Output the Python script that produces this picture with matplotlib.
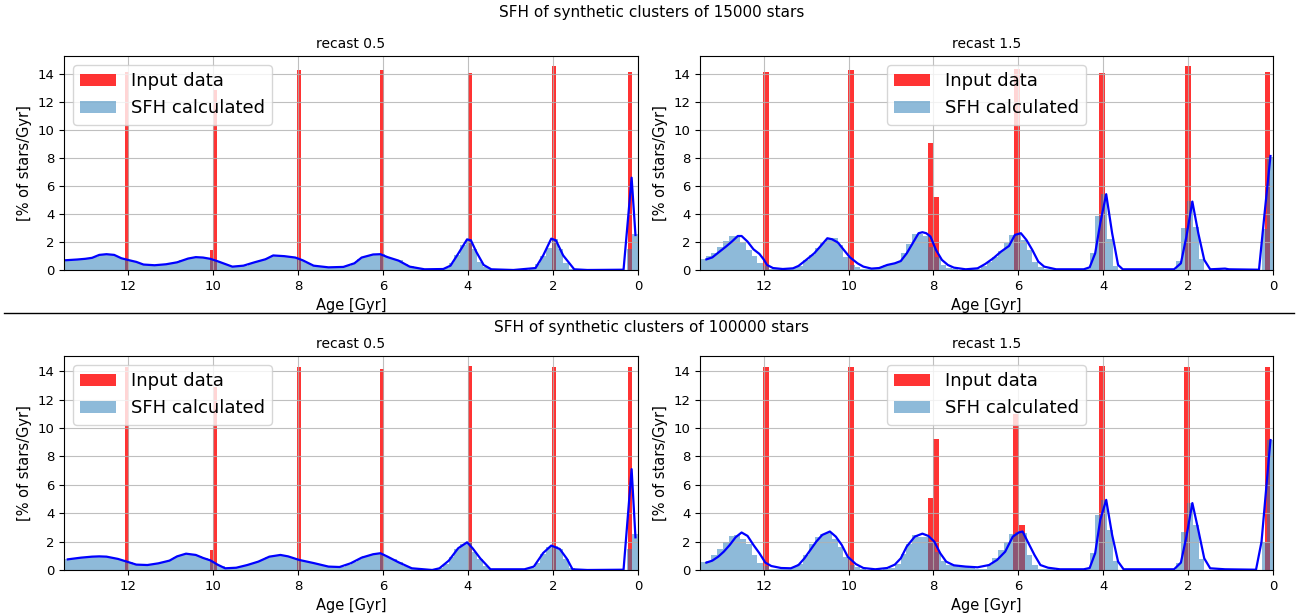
import matplotlib
matplotlib.use("Agg")
import matplotlib.pyplot as plt
from matplotlib.lines import Line2D

# ---------------- data ----------------
BIN_W = 0.135
N_BINS = 100
bin_ages = [BIN_W * (k + 0.5) for k in range(N_BINS)]  # bin centres, young -> old [Gyr]

# --- input bursts (red bars) ---
red_age_15k_r05 = [12.01, 10.03, 9.95, 7.98, 6.03, 3.95, 1.97, 0.19]
red_val_15k_r05 = [14.16, 1.43, 12.86, 14.29, 14.3, 14.05, 14.57, 14.16]
red_age_15k_r15 = [11.95, 9.94, 8.07, 7.94, 6.04, 4.03, 2.0, 0.13]
red_val_15k_r15 = [14.16, 14.29, 9.1, 5.24, 14.36, 14.1, 14.57, 14.16]
red_age_100k_r05 = [12.01, 10.03, 9.95, 7.98, 6.03, 3.95, 1.97, 0.19]
red_val_100k_r05 = [14.3, 1.41, 12.9, 14.3, 14.15, 14.35, 14.26, 14.26]
red_age_100k_r15 = [11.95, 9.94, 8.07, 7.94, 6.05, 5.92, 4.03, 2.02, 0.13]
red_val_100k_r15 = [14.26, 14.26, 5.05, 9.2, 10.96, 3.17, 14.35, 14.26, 14.26]

# --- recovered SFH histogram (blue bars), one value per bin, young -> old ---
bars_15k_r05 = [
    2.6, 1.5, 0, 0, 0, 0, 0, 0, 0, 0,
    0, 0.1, 0.5, 1.5, 2.2, 1.6, 1.0, 0.4, 0.08, 0.02,
    0, 0, 0, 0.01, 0.02, 0.05, 0.2, 0.6, 1.5, 2.2,
    1.8, 1.1, 0.5, 0.15, 0.07, 0.05, 0.05, 0.06, 0.12, 0.28,
    0.45, 0.68, 0.78, 0.95, 1.12, 1.12, 1.08, 0.95, 0.8, 0.48,
    0.3, 0.22, 0.2, 0.19, 0.2, 0.25, 0.31, 0.52, 0.70, 0.88,
    0.95, 0.99, 1.02, 1.04, 0.85, 0.7, 0.58, 0.45, 0.32, 0.27,
    0.25, 0.35, 0.52, 0.66, 0.80, 0.88, 0.91, 0.90, 0.82, 0.68,
    0.55, 0.46, 0.40, 0.36, 0.34, 0.37, 0.42, 0.58, 0.70, 0.80,
    0.96, 1.08, 1.13, 1.1, 0.95, 0.84, 0.80, 0.76, 0.73, 0.70,
]
bars_100k_r05 = [
    2.5, 1.5, 0, 0, 0, 0, 0, 0, 0, 0,
    0, 0.15, 0.8, 1.45, 1.7, 1.65, 1.1, 0.5, 0.15, 0.05,
    0.03, 0.02, 0.02, 0.02, 0.02, 0.05, 0.3, 0.8, 1.3, 1.9,
    1.8, 1.45, 0.9, 0.4, 0.12, 0.02, 0.01, 0.03, 0.08, 0.12,
    0.3, 0.55, 0.75, 0.95, 1.15, 1.15, 1.08, 0.98, 0.8, 0.55,
    0.38, 0.23, 0.21, 0.23, 0.3, 0.38, 0.49, 0.57, 0.66, 0.75,
    0.9, 1.02, 1.06, 1.0, 0.9, 0.7, 0.55, 0.4, 0.3, 0.2,
    0.15, 0.12, 0.25, 0.4, 0.68, 0.88, 0.98, 1.1, 1.15, 1.08,
    0.92, 0.68, 0.55, 0.47, 0.4, 0.35, 0.36, 0.38, 0.55, 0.68,
    0.78, 0.88, 0.94, 0.96, 0.95, 0.92, 0.88, 0.85, 0.8, 0.75,
]
bars_15k_r15 = [
    8.1, 2.93, 0, 0, 0, 0, 0, 0.05, 0.03, 0,
    0, 0, 0.79, 3.1, 4.9, 3.02, 0.64, 0.02, 0, 0,
    0, 0, 0, 0, 0, 0, 0.02, 0.3, 2.2, 5.4,
    3.86, 1.24, 0.05, 0.02, 0.02, 0.02, 0.02, 0.02, 0.05, 0.1,
    0.24, 0.6, 1.43, 2.14, 2.6, 2.5, 1.9, 1.38, 0.95, 0.6,
    0.3, 0.1, 0.05, 0.02, 0.02, 0.05, 0.15, 0.36, 0.95, 1.67,
    2.45, 2.58, 2.55, 1.84, 1.2, 0.6, 0.45, 0.35, 0.25, 0.15,
    0.05, 0.05, 0.2, 0.36, 0.95, 1.79, 2.26, 2.31, 1.95, 1.55,
    1.07, 0.71, 0.29, 0.15, 0.08, 0.05, 0.05, 0.1, 0.3, 0.52,
    1.0, 1.43, 2.0, 2.43, 2.43, 2.1, 1.67, 1.24, 1.0, 0.79,
]
bars_100k_r15 = [
    9.15, 2.0, 0, 0, 0, 0, 0, 0.03, 0, 0,
    0, 0.02, 0.77, 3.2, 4.7, 2.7, 0.47, 0.02, 0, 0,
    0, 0, 0, 0, 0, 0, 0.02, 0.63, 2.82, 4.93,
    3.87, 1.22, 0.05, 0.02, 0.02, 0.02, 0.02, 0.02, 0.05, 0.1,
    0.1, 0.35, 1.06, 2.58, 2.7, 2.51, 2.0, 1.41, 0.82, 0.35,
    0.1, 0.1, 0.15, 0.18, 0.2, 0.25, 0.35, 0.65, 1.25, 2.0,
    2.3, 2.3, 2.46, 1.83, 1.13, 0.4, 0.15, 0.05, 0.03, 0.02,
    0.02, 0.05, 0.2, 0.35, 0.94, 1.64, 2.2, 2.58, 2.5, 2.35,
    1.83, 1.06, 0.42, 0.2, 0.1, 0.05, 0.05, 0.1, 0.25, 0.5,
    1.06, 1.8, 2.2, 2.45, 2.4, 2.0, 1.5, 1.06, 0.6, 0.55,
]

# --- recovered SFH curve (blue line) ---
line_age_15k_r05 = [13.45, 13.19, 13.0, 12.84, 12.67, 12.5, 12.32, 12.15, 11.97, 11.8,
                    11.63, 11.37, 11.1, 10.84, 10.58, 10.4, 10.23, 10.06, 9.89, 9.71,
                    9.54, 9.28, 9.02, 8.76, 8.58, 8.32, 8.06, 7.89, 7.63, 7.28,
                    6.93, 6.67, 6.5, 6.23, 6.06, 5.89, 5.63, 5.37, 5.02, 4.58,
                    4.41, 4.23, 4.02, 3.93, 3.8, 3.63, 3.45, 2.93, 2.41, 2.23,
                    2.04, 1.93, 1.76, 1.5, 1.19, 0.34, 0.15, 0.06]
line_15k_r05 = [0.70, 0.75, 0.80, 0.87, 1.08, 1.13, 1.08, 0.84, 0.70, 0.58,
                0.39, 0.34, 0.41, 0.55, 0.82, 0.92, 0.89, 0.80, 0.63, 0.43,
                0.24, 0.31, 0.55, 0.77, 1.04, 0.99, 0.89, 0.70, 0.31, 0.19,
                0.22, 0.48, 0.89, 1.11, 1.13, 0.92, 0.67, 0.24, 0.05, 0.07,
                0.31, 1.16, 2.19, 2.12, 1.28, 0.36, 0.05, 0.0, 0.14, 1.04,
                2.24, 2.12, 1.04, 0.05, 0.0, 0.02, 6.6, 2.5]

line_age_100k_r05 = [13.41, 13.1, 12.84, 12.67, 12.5, 12.23, 11.97, 11.8, 11.54, 11.28,
                     11.02, 10.84, 10.63, 10.4, 10.23, 10.06, 9.89, 9.71, 9.45, 9.19,
                     8.93, 8.67, 8.41, 8.23, 7.97, 7.63, 7.28, 7.02, 6.76, 6.5,
                     6.23, 6.06, 5.89, 5.63, 5.32, 4.84, 4.67, 4.45, 4.23, 4.02,
                     3.89, 3.71, 3.47, 2.67, 2.45, 2.23, 2.04, 1.84, 1.67, 1.54,
                     1.19, 0.34, 0.15, 0.06]
line_100k_r05 = [0.75, 0.87, 0.94, 0.96, 0.94, 0.78, 0.54, 0.38, 0.35, 0.47,
                 0.66, 0.96, 1.15, 1.06, 0.85, 0.68, 0.38, 0.12, 0.16, 0.35,
                 0.59, 0.94, 1.06, 0.96, 0.71, 0.49, 0.24, 0.21, 0.47, 0.87,
                 1.11, 1.18, 0.94, 0.54, 0.12, 0.0, 0.12, 0.66, 1.53, 1.95,
                 1.53, 0.82, 0.05, 0.05, 0.24, 1.2, 1.72, 1.48, 0.78, 0.05,
                 0.0, 0.02, 7.1, 2.3]

line_age_15k_r15 = [13.35, 13.21, 13.07, 12.89, 12.75, 12.61, 12.52, 12.38, 12.24, 12.1,
                    12.0, 11.92, 11.78, 11.55, 11.31, 11.18, 11.0, 10.81, 10.67, 10.5,
                    10.39, 10.25, 10.11, 9.97, 9.79, 9.65, 9.46, 9.28, 9.09, 8.91,
                    8.77, 8.63, 8.49, 8.35, 8.26, 8.17, 8.07, 7.94, 7.8, 7.66,
                    7.52, 7.24, 6.96, 6.78, 6.59, 6.41, 6.22, 6.08, 5.94, 5.81,
                    5.67, 5.53, 5.39, 5.11, 4.46, 4.32, 4.19, 4.07, 3.93, 3.79,
                    3.65, 3.54, 2.33, 2.17, 2.04, 1.9, 1.76, 1.62, 1.48, 1.13,
                    1.04, 0.33, 0.2, 0.06]
line_15k_r15 = [0.76, 0.9, 1.24, 1.67, 2.03, 2.43, 2.43, 2.03, 1.48, 1.15,
                0.76, 0.36, 0.14, 0.07, 0.12, 0.29, 0.72, 1.19, 1.67, 2.27,
                2.2, 1.96, 1.43, 0.91, 0.48, 0.24, 0.1, 0.14, 0.36, 0.48,
                0.64, 1.19, 1.91, 2.63, 2.7, 2.63, 2.39, 1.43, 0.72, 0.36,
                0.17, 0.05, 0.12, 0.43, 0.84, 1.31, 1.72, 2.51, 2.63, 2.15,
                1.43, 0.6, 0.24, 0.05, 0.05, 0.19, 1.19, 3.34, 5.42, 2.63,
                0.36, 0.05, 0.05, 0.48, 2.39, 4.89, 2.63, 0.72, 0.05, 0.1,
                0.05, 0.02, 4.0, 8.15]

line_age_100k_r15 = [13.35, 13.21, 13.07, 12.94, 12.8, 12.66, 12.52, 12.38, 12.24, 12.1,
                     11.96, 11.82, 11.59, 11.36, 11.18, 11.04, 10.9, 10.76, 10.62, 10.44,
                     10.3, 10.16, 10.02, 9.83, 9.65, 9.37, 9.09, 8.91, 8.77, 8.63,
                     8.44, 8.26, 8.12, 7.98, 7.84, 7.7, 7.52, 7.24, 6.96, 6.69,
                     6.5, 6.31, 6.13, 5.99, 5.9, 5.76, 5.62, 5.48, 5.3, 5.02,
                     4.46, 4.32, 4.19, 4.07, 3.93, 3.79, 3.65, 3.52, 2.33, 2.17,
                     2.04, 1.9, 1.76, 1.62, 1.48, 1.13, 0.4, 0.27, 0.06]
line_100k_r15 = [0.52, 0.66, 0.94, 1.29, 1.76, 2.31, 2.64, 2.4, 1.76, 1.18,
                 0.52, 0.28, 0.14, 0.12, 0.35, 0.82, 1.41, 2.0, 2.47, 2.71,
                 2.35, 1.76, 0.94, 0.42, 0.14, 0.05, 0.14, 0.38, 0.82, 1.65,
                 2.35, 2.56, 2.4, 2.0, 1.18, 0.59, 0.33, 0.24, 0.19, 0.35,
                 0.71, 1.29, 2.35, 2.64, 2.71, 1.88, 1.06, 0.35, 0.16, 0.05,
                 0.05, 0.14, 1.18, 3.53, 4.94, 2.47, 0.59, 0.05, 0.05, 0.52,
                 2.35, 4.71, 2.82, 0.82, 0.12, 0.05, 0.02, 2.0, 9.15]

titles = ["recast 0.5", "recast 1.5"]
suptitles = ["SFH of synthetic clusters of 15000 stars",
             "SFH of synthetic clusters of 100000 stars"]
x_ticks = [0, 2, 4, 6, 8, 10, 12]
y_ticks = [0, 2, 4, 6, 8, 10, 12, 14]

panels = [
    (red_age_15k_r05, red_val_15k_r05, bars_15k_r05, line_age_15k_r05, line_15k_r05),
    (red_age_15k_r15, red_val_15k_r15, bars_15k_r15, line_age_15k_r15, line_15k_r15),
    (red_age_100k_r05, red_val_100k_r05, bars_100k_r05, line_age_100k_r05, line_100k_r05),
    (red_age_100k_r15, red_val_100k_r15, bars_100k_r15, line_age_100k_r15, line_100k_r15),
]

# ---------------- figure ----------------
W, H = 1303, 616
fig = plt.figure(figsize=(W / 100, H / 100), dpi=100)

def px_axes(x0, y0, x1, y1):
    return fig.add_axes([x0 / W, 1 - y1 / H, (x1 - x0) / W, (y1 - y0) / H])

rects = [(64, 56, 638, 270), (700, 56, 1273, 270),
         (64, 356, 638, 570), (700, 356, 1273, 570)]
red_widths = [0.09, 0.135, 0.09, 0.135]
legend_locs = ["upper left", "upper center", "upper left", "upper center"]

for i, (rect, data) in enumerate(zip(rects, panels)):
    r_age, r_val, bars, l_age, l_val = data
    ax = px_axes(*rect)
    ax.bar(r_age, r_val, width=red_widths[i], color="red", alpha=0.8,
           label="Input data")
    ax.bar(bin_ages, bars, width=BIN_W, color="C0", alpha=0.5,
           label="SFH calculated")
    ax.plot(l_age, l_val, color="blue", lw=1.6)
    ax.set_xlim(13.5, 0)
    ax.set_xticks(x_ticks)
    ax.set_yticks(y_ticks)
    ax.grid(True, alpha=0.8)
    ax.set_title(titles[i % 2], fontsize=10)
    ax.set_xlabel("Age [Gyr]", fontsize=10.5)
    ax.set_ylabel("[% of stars/Gyr]", fontsize=10.5)
    ax.tick_params(labelsize=9.5)
    ax.legend(loc=legend_locs[i], fontsize=13)

fig.text(0.5, 1 - 13 / H, suptitles[0], ha="center", va="center", fontsize=11)
fig.text(0.5, 1 - 327 / H, suptitles[1], ha="center", va="center", fontsize=11)
fig.add_artist(Line2D([0.003, 0.993], [1 - 313 / H, 1 - 313 / H],
                      color="black", lw=1.0, transform=fig.transFigure))

fig.savefig("out.png", dpi=100)
